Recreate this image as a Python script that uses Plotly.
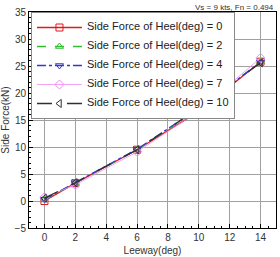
import plotly.graph_objects as go

leeway = [0, 2, 6, 10, 14]
heel0 = [0.0, 3.3, 9.5, 16.6, 25.8]
heel2 = [0.2, 3.3, 9.5, 17.0, 25.8]
heel4 = [0.3, 3.4, 9.6, 17.2, 25.7]
heel7 = [0.7, 3.0, 9.1, 16.7, 26.5]
heel10 = [0.5, 3.4, 9.5, 17.2, 25.6]

series = [
    ("Side Force of Heel(deg) = 0", heel0, "#e0191f", "solid", "square-open", 1.3),
    ("Side Force of Heel(deg) = 2", heel2, "#2fbf2f", "dash", "triangle-up-open", 1.3),
    ("Side Force of Heel(deg) = 4", heel4, "#3535d0", "dashdot", "triangle-down-open", 1.3),
    ("Side Force of Heel(deg) = 7", heel7, "#f08cf0", "solid", "diamond-open", 0.8),
    ("Side Force of Heel(deg) = 10", heel10, "#303030", "longdash", "triangle-left-open", 1.3),
]

fig = go.Figure()
for name, y, c, dash, sym, w in series:
    fig.add_trace(go.Scatter(x=leeway, y=y, name='<span style="font-size:11px">' + name + '</span>',
                             mode="lines+markers",
                             line=dict(color=c, dash=dash, width=w),
                             marker=dict(symbol=sym, size=7, color=c, line=dict(width=1, color=c))))

font = "Liberation Sans, Arial"
axis_common = dict(showline=True, linecolor="black", linewidth=1, mirror=True,
                   ticks="inside", ticklen=4, tickcolor="black",
                   showgrid=True, gridcolor="#a0a0a0", gridwidth=1, zeroline=False,
                   tickfont=dict(family=font, size=10, color="#333"),
                   minor=dict(ticks="inside", ticklen=2, tickcolor="black", showgrid=False))

fig.update_xaxes(range=[-1, 15], dtick=2, tick0=0,
                 title=dict(text="Leeway(deg)", font=dict(family=font, size=10, color="#333"), standoff=4),
                 **axis_common)
fig.update_xaxes(minor_dtick=0.5)
fig.update_yaxes(range=[-5, 35], dtick=5, tick0=0,
                 title=dict(text="Side Force(kN)", font=dict(family=font, size=10, color="#333"), standoff=4),
                 **axis_common)
fig.update_yaxes(minor_dtick=1)

fig.update_layout(
    width=280, height=257,
    margin=dict(l=29, r=3, t=12, b=19),
    paper_bgcolor="white", plot_bgcolor="white",
    showlegend=True,
    legend=dict(x=0.008, y=1.0, xanchor="left", yanchor="top",
                bgcolor="white", bordercolor="#888", borderwidth=1,
                font=dict(family=font, size=7.5, color="#222"),
                tracegroupgap=0, itemwidth=45),
    annotations=[dict(text="Vs = 9 kts, Fn = 0.494", xref="paper", yref="paper",
                      x=1.0, y=1.0, xanchor="right", yanchor="bottom", yshift=-2,
                      showarrow=False, font=dict(family=font, size=8, color="#333"))],
)

fig.write_html("out.html")
